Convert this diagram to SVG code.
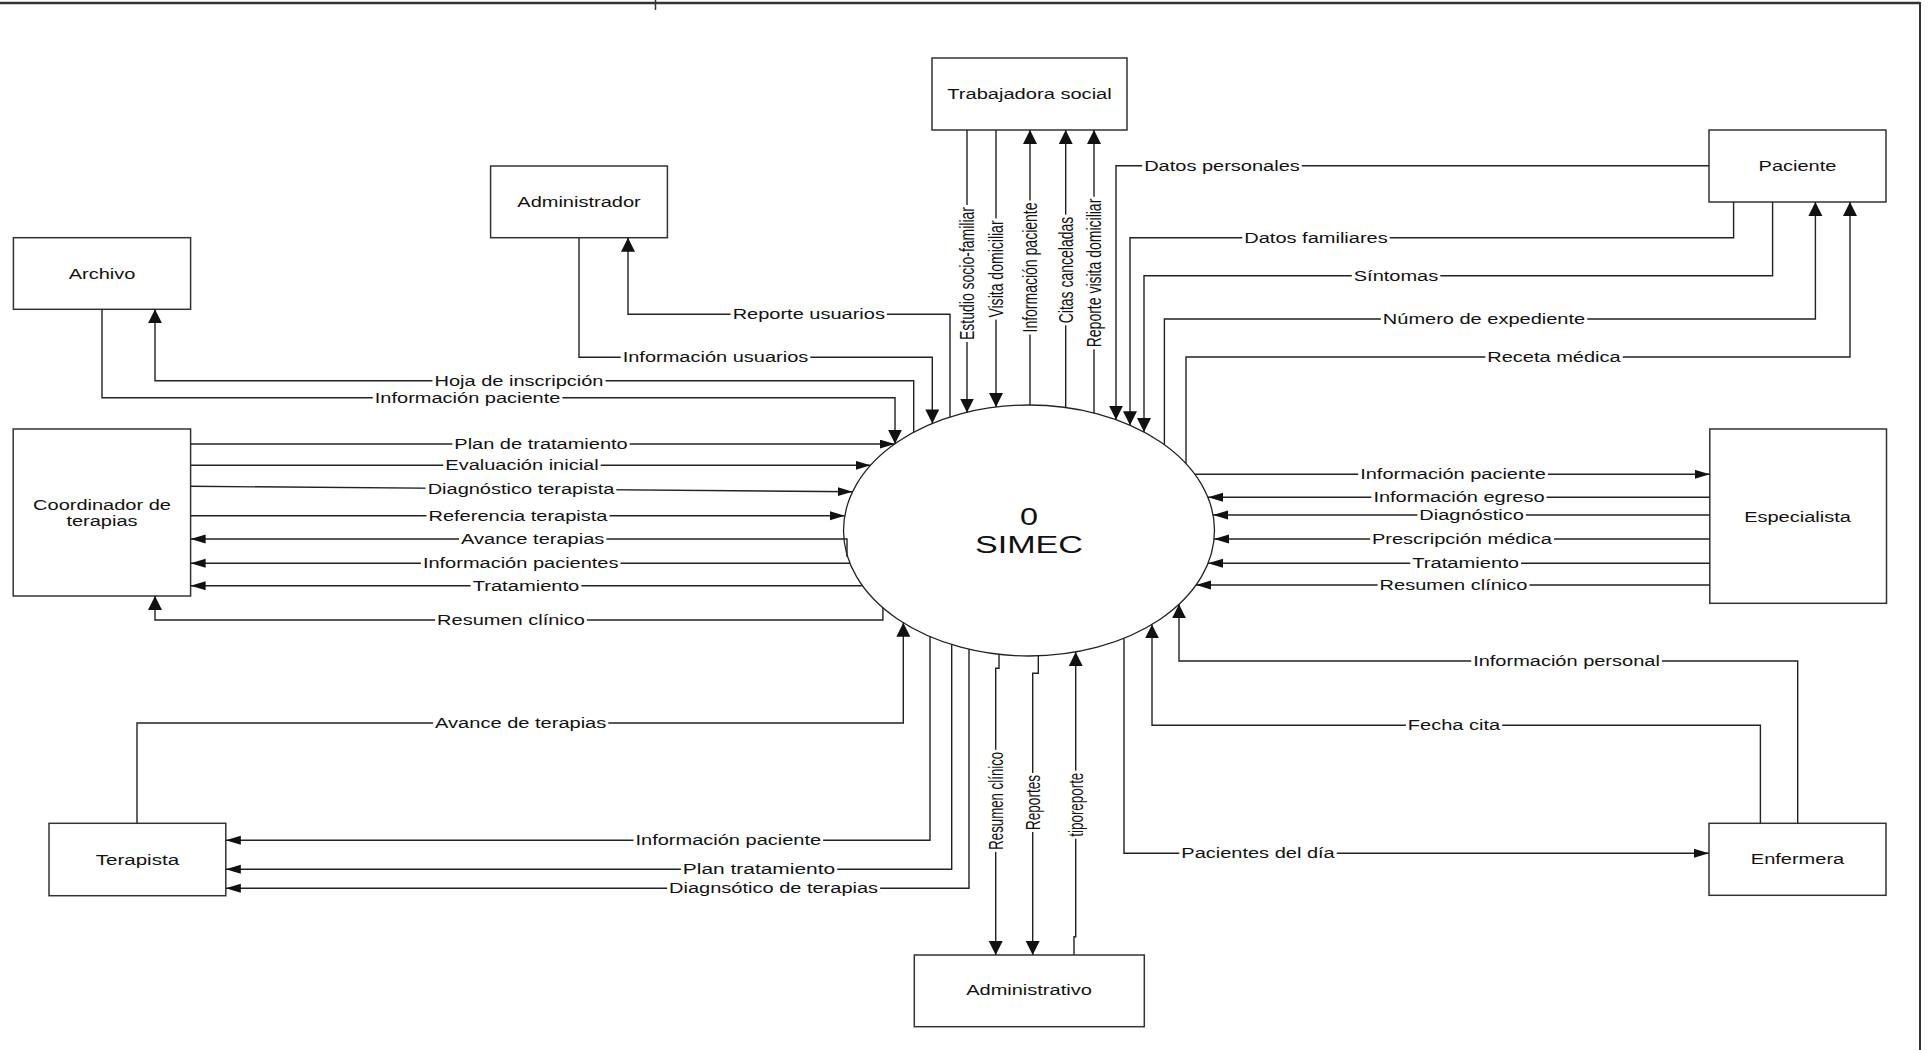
<svg xmlns="http://www.w3.org/2000/svg" width="1928" height="1050" viewBox="0 0 1928 1050">
<style>
.node rect{fill:#fff;stroke:#333;stroke-width:1.5}
.node ellipse{fill:#fff;stroke:#222;stroke-width:1.3}
.t{font-family:"Liberation Sans",Arial,sans-serif;font-size:14px;fill:#111;text-anchor:middle}
.vt{font-family:"Liberation Sans",Arial,sans-serif;font-size:20px;fill:#111;text-anchor:middle}
.big{font-family:"Liberation Sans",Arial,sans-serif;font-size:24px;fill:#111;text-anchor:middle}
#connectors path{fill:none;stroke:#222;stroke-width:1.4}
.lb rect{fill:#fff}
.frame{stroke:#333;fill:none}
</style>
<defs>
<marker id="ah" markerUnits="userSpaceOnUse" markerWidth="16" markerHeight="10" refX="15" refY="4.5" orient="auto"><path d="M0,0 L15,4.5 L0,9 z" fill="#111"/></marker>
<marker id="av" markerUnits="userSpaceOnUse" markerWidth="15" markerHeight="15" refX="14" refY="7" orient="auto"><path d="M0,0 L14,7 L0,14 z" fill="#111"/></marker>
</defs>
<rect width="1928" height="1050" fill="#fff"/>
<g id="frame">
<line class="frame" x1="0" y1="3" x2="1920" y2="3" stroke-width="2.5"/>
<line class="frame" x1="1920" y1="2" x2="1920" y2="1050" stroke-width="2"/>
<line class="frame" x1="655.5" y1="0" x2="655.5" y2="10" stroke-width="1.5"/>
</g>

<g id="n-simec" class="node">
<ellipse cx="1029" cy="530.5" rx="185.5" ry="125.5"/>
<text class="big" x="1029" y="525" textLength="18" lengthAdjust="spacingAndGlyphs">0</text>
<text class="big" x="1029" y="553" textLength="108" lengthAdjust="spacingAndGlyphs">SIMEC</text>
</g>
<g id="n-trabajadora" class="node"><rect x="932" y="58" width="195" height="72"/><text class="t" x="1029.5" y="99" textLength="164.5" lengthAdjust="spacingAndGlyphs">Trabajadora social</text></g>
<g id="n-administrador" class="node"><rect x="490.6" y="166" width="176.8" height="71.7"/><text class="t" x="579" y="206.8" textLength="123.4" lengthAdjust="spacingAndGlyphs">Administrador</text></g>
<g id="n-archivo" class="node"><rect x="13.4" y="237.7" width="177.2" height="71.6"/><text class="t" x="102" y="278.5" textLength="66.7" lengthAdjust="spacingAndGlyphs">Archivo</text></g>
<g id="n-coordinador" class="node"><rect x="13.2" y="429" width="177.4" height="167"/><text class="t" x="102" y="510" textLength="137.8" lengthAdjust="spacingAndGlyphs">Coordinador de</text><text class="t" x="102" y="525.7" textLength="71.1" lengthAdjust="spacingAndGlyphs">terapias</text></g>
<g id="n-terapista" class="node"><rect x="49" y="823.3" width="176.8" height="72.4"/><text class="t" x="137.4" y="864.5" textLength="83.4" lengthAdjust="spacingAndGlyphs">Terapista</text></g>
<g id="n-paciente" class="node"><rect x="1709" y="130" width="177" height="72"/><text class="t" x="1797.5" y="171" textLength="77.8" lengthAdjust="spacingAndGlyphs">Paciente</text></g>
<g id="n-especialista" class="node"><rect x="1709.8" y="429" width="176.7" height="174.3"/><text class="t" x="1797.5" y="521.5" textLength="106.7" lengthAdjust="spacingAndGlyphs">Especialista</text></g>
<g id="n-enfermera" class="node"><rect x="1709" y="823.3" width="177" height="72"/><text class="t" x="1797.5" y="864.3" textLength="93.4" lengthAdjust="spacingAndGlyphs">Enfermera</text></g>
<g id="n-administrativo" class="node"><rect x="914.3" y="955" width="230" height="71.7"/><text class="t" x="1029" y="995" textLength="125.6" lengthAdjust="spacingAndGlyphs">Administrativo</text></g>

<g id="connectors">
<!-- Trabajadora social -->
<path d="M967,130 V412.5" marker-end="url(#av)"/>
<path d="M996,130 V407" marker-end="url(#av)"/>
<path d="M1030,405 V130" marker-end="url(#av)"/>
<path d="M1065.7,407.5 V130" marker-end="url(#av)"/>
<path d="M1094,413 V130" marker-end="url(#av)"/>
<!-- Administrador / Archivo -->
<path d="M950,417 V314.3 H628 V237.7" marker-end="url(#av)"/>
<path d="M579,237.7 V357.3 H932.3 V423.4" marker-end="url(#av)"/>
<path d="M913.7,432.2 V380.7 H155 V309.3" marker-end="url(#av)"/>
<path d="M102,309.3 V397.7 H895 V443.7" marker-end="url(#av)"/>
<!-- Coordinador -->
<path d="M190.6,444 H894.6" marker-end="url(#ah)"/>
<path d="M190.6,465.3 H870.5" marker-end="url(#ah)"/>
<path d="M190.6,486.3 L852.6,491.7" marker-end="url(#ah)"/>
<path d="M190.6,515.7 H844.8" marker-end="url(#ah)"/>
<path d="M847,557 V539 H190.6" marker-end="url(#ah)"/>
<path d="M850,563.3 H190.6" marker-end="url(#ah)"/>
<path d="M862.4,585.7 H190.6" marker-end="url(#ah)"/>
<path d="M882.9,607.8 V620 H155 V596" marker-end="url(#av)"/>
<!-- Terapista -->
<path d="M137,823.3 V723 H903.3 V622.8" marker-end="url(#av)"/>
<path d="M930,636.6 V840.3 H225.8" marker-end="url(#ah)"/>
<path d="M951.7,644.6 V869.3 H225.8" marker-end="url(#ah)"/>
<path d="M969,649.2 V888.3 H225.8" marker-end="url(#ah)"/>
<!-- Administrativo -->
<path d="M999,654.3 V668.3 H995.7 V955" marker-end="url(#av)"/>
<path d="M1038.3,656 V673.3 H1032.7 V955" marker-end="url(#av)"/>
<path d="M1074,955 V936.7 H1075.7 V652" marker-end="url(#av)"/>
<!-- Enfermera -->
<path d="M1124,638.3 V853.3 H1709" marker-end="url(#ah)"/>
<path d="M1760.4,823.3 V725.3 H1152 V624.4" marker-end="url(#av)"/>
<path d="M1797.7,823.3 V661 H1179 V604.3" marker-end="url(#av)"/>
<!-- Especialista -->
<path d="M1195,474.3 H1709.8" marker-end="url(#ah)"/>
<path d="M1709.8,497.3 H1208" marker-end="url(#ah)"/>
<path d="M1709.8,515 H1213" marker-end="url(#ah)"/>
<path d="M1709.8,539 H1214" marker-end="url(#ah)"/>
<path d="M1709.8,563.3 H1208" marker-end="url(#ah)"/>
<path d="M1709.8,585 H1196" marker-end="url(#ah)"/>
<!-- Paciente -->
<path d="M1709,165.7 H1116 V419.7" marker-end="url(#av)"/>
<path d="M1733.6,202 V237.7 H1130 V425.2" marker-end="url(#av)"/>
<path d="M1772.6,202 V275.7 H1144 V432" marker-end="url(#av)"/>
<path d="M1164.4,444.7 V319 H1815.4 V202" marker-end="url(#av)"/>
<path d="M1186,463.6 V357 H1850 V202" marker-end="url(#av)"/>
</g>

<g id="labels" class="lb">
<rect x="730.6" y="306.3" width="156.3" height="16"/><text class="t" x="808.8" y="319.3" textLength="152.3" lengthAdjust="spacingAndGlyphs">Reporte usuarios</text>
<rect x="620.7" y="349.3" width="189.6" height="16"/><text class="t" x="715.5" y="362.3" textLength="185.6" lengthAdjust="spacingAndGlyphs">Información usuarios</text>
<rect x="432.5" y="372.7" width="173" height="16"/><text class="t" x="519" y="385.7" textLength="169" lengthAdjust="spacingAndGlyphs">Hoja de inscripción</text>
<rect x="372.8" y="389.7" width="189.6" height="16"/><text class="t" x="467.6" y="402.7" textLength="185.6" lengthAdjust="spacingAndGlyphs">Información paciente</text>
<rect x="452.3" y="436" width="177.4" height="16"/><text class="t" x="541" y="449" textLength="173.4" lengthAdjust="spacingAndGlyphs">Plan de tratamiento</text>
<rect x="443.3" y="457.3" width="157.4" height="16"/><text class="t" x="522" y="470.3" textLength="153.4" lengthAdjust="spacingAndGlyphs">Evaluación inicial</text>
<rect x="425.6" y="481" width="190.7" height="16"/><text class="t" x="521" y="494" textLength="186.7" lengthAdjust="spacingAndGlyphs">Diagnóstico terapista</text>
<rect x="426.5" y="507.7" width="183" height="16"/><text class="t" x="518" y="520.7" textLength="179" lengthAdjust="spacingAndGlyphs">Referencia terapista</text>
<rect x="459" y="531" width="147.4" height="16"/><text class="t" x="532.7" y="544" textLength="143.4" lengthAdjust="spacingAndGlyphs">Avance terapias</text>
<rect x="420.9" y="555.3" width="199.6" height="16"/><text class="t" x="520.7" y="568.3" textLength="195.6" lengthAdjust="spacingAndGlyphs">Información pacientes</text>
<rect x="470.6" y="577.7" width="110.7" height="16"/><text class="t" x="526" y="590.7" textLength="106.7" lengthAdjust="spacingAndGlyphs">Tratamiento</text>
<rect x="435.1" y="612" width="151.8" height="16"/><text class="t" x="511" y="625" textLength="147.8" lengthAdjust="spacingAndGlyphs">Resumen clínico</text>
<rect x="433.1" y="715" width="175.2" height="16"/><text class="t" x="520.7" y="728" textLength="171.2" lengthAdjust="spacingAndGlyphs">Avance de terapias</text>
<rect x="633.5" y="832.3" width="189.6" height="16"/><text class="t" x="728.3" y="845.3" textLength="185.6" lengthAdjust="spacingAndGlyphs">Información paciente</text>
<rect x="680.9" y="861.3" width="156.3" height="16"/><text class="t" x="759" y="874.3" textLength="152.3" lengthAdjust="spacingAndGlyphs">Plan tratamiento</text>
<rect x="667.1" y="880.3" width="213" height="16"/><text class="t" x="773.6" y="893.3" textLength="209" lengthAdjust="spacingAndGlyphs">Diagnsótico de terapias</text>
<rect x="1142.2" y="157.7" width="159.6" height="16"/><text class="t" x="1222" y="170.7" textLength="155.6" lengthAdjust="spacingAndGlyphs">Datos personales</text>
<rect x="1242.3" y="229.7" width="147.4" height="16"/><text class="t" x="1316" y="242.7" textLength="143.4" lengthAdjust="spacingAndGlyphs">Datos familiares</text>
<rect x="1351.8" y="267.7" width="88.5" height="16"/><text class="t" x="1396" y="280.7" textLength="84.5" lengthAdjust="spacingAndGlyphs">Síntomas</text>
<rect x="1380.9" y="311" width="206.3" height="16"/><text class="t" x="1484" y="324" textLength="202.3" lengthAdjust="spacingAndGlyphs">Número de expediente</text>
<rect x="1485.3" y="349" width="137.4" height="16"/><text class="t" x="1554" y="362" textLength="133.4" lengthAdjust="spacingAndGlyphs">Receta médica</text>
<rect x="1358.2" y="466.3" width="189.6" height="16"/><text class="t" x="1453" y="479.3" textLength="185.6" lengthAdjust="spacingAndGlyphs">Información paciente</text>
<rect x="1371.4" y="489.3" width="175.2" height="16"/><text class="t" x="1459" y="502.3" textLength="171.2" lengthAdjust="spacingAndGlyphs">Información egreso</text>
<rect x="1417.4" y="507" width="108.5" height="16"/><text class="t" x="1471.6" y="520" textLength="104.5" lengthAdjust="spacingAndGlyphs">Diagnóstico</text>
<rect x="1370" y="531" width="184" height="16"/><text class="t" x="1462" y="544" textLength="180" lengthAdjust="spacingAndGlyphs">Prescripción médica</text>
<rect x="1410.3" y="555.3" width="110.7" height="16"/><text class="t" x="1465.6" y="568.3" textLength="106.7" lengthAdjust="spacingAndGlyphs">Tratamiento</text>
<rect x="1377.6" y="577" width="151.8" height="16"/><text class="t" x="1453.5" y="590" textLength="147.8" lengthAdjust="spacingAndGlyphs">Resumen clínico</text>
<rect x="1471.2" y="653" width="190.7" height="16"/><text class="t" x="1566.5" y="666" textLength="186.7" lengthAdjust="spacingAndGlyphs">Información personal</text>
<rect x="1405.9" y="717.3" width="96.3" height="16"/><text class="t" x="1454" y="730.3" textLength="92.3" lengthAdjust="spacingAndGlyphs">Fecha cita</text>
<rect x="1179.3" y="845.3" width="157.4" height="16"/><text class="t" x="1258" y="858.3" textLength="153.4" lengthAdjust="spacingAndGlyphs">Pacientes del día</text>

<g transform="translate(967,273.5) rotate(-90)"><rect x="-68.5" y="-9" width="137" height="19"/><text class="vt" x="0" y="7" textLength="133" lengthAdjust="spacingAndGlyphs">Estudio socio-familiar</text></g>
<g transform="translate(996,269) rotate(-90)"><rect x="-50.6" y="-9" width="101.2" height="19"/><text class="vt" x="0" y="7" textLength="97.2" lengthAdjust="spacingAndGlyphs">Visita domiciliar</text></g>
<g transform="translate(1030,267.5) rotate(-90)"><rect x="-67" y="-9" width="134" height="19"/><text class="vt" x="0" y="7" textLength="130" lengthAdjust="spacingAndGlyphs">Información paciente</text></g>
<g transform="translate(1065.7,270) rotate(-90)"><rect x="-55.3" y="-9" width="110.6" height="19"/><text class="vt" x="0" y="7" textLength="106.6" lengthAdjust="spacingAndGlyphs">Citas canceladas</text></g>
<g transform="translate(1094,273) rotate(-90)"><rect x="-76.3" y="-9" width="152.6" height="19"/><text class="vt" x="0" y="7" textLength="148.6" lengthAdjust="spacingAndGlyphs">Reporte visita domiciliar</text></g>
<g transform="translate(995.7,800.8) rotate(-90)"><rect x="-51" y="-9" width="102" height="19"/><text class="vt" x="0" y="7" textLength="98" lengthAdjust="spacingAndGlyphs">Resumen clínico</text></g>
<g transform="translate(1032.7,802.5) rotate(-90)"><rect x="-29.5" y="-9" width="59" height="19"/><text class="vt" x="0" y="7" textLength="55" lengthAdjust="spacingAndGlyphs">Reportes</text></g>
<g transform="translate(1075.7,804.7) rotate(-90)"><rect x="-34" y="-9" width="68" height="19"/><text class="vt" x="0" y="7" textLength="64" lengthAdjust="spacingAndGlyphs">tiporeporte</text></g>
</g>
</svg>
